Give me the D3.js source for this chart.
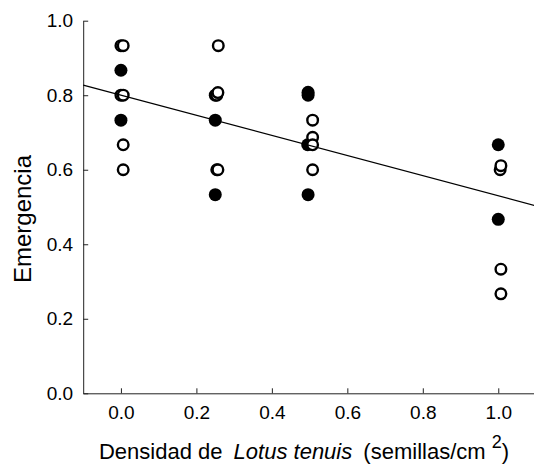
<!DOCTYPE html>
<html>
<head>
<meta charset="utf-8">
<script src="https://cdn.jsdelivr.net/npm/d3@7"></script>
<style>
  body { margin: 0; background: #fff; }
  text { font-family: "Liberation Sans", Arial, sans-serif; fill: #000; }
</style>
</head>
<body>
<div id="chart"></div>
<script>
// filled circles (density, emergence)
var filledX = [0, 0, 0.25, 0.25, 0.25, 0.496, 0.496, 0.495, 0.496, 1.0, 1.0];
var filledY = [0.867, 0.733, 0.8, 0.733, 0.533, 0.8, 0.808, 0.667, 0.533, 0.667, 0.467];

// open circles: density group + small right shift seen in the original
var openGroup = [0, 0, 0, 0, 0, 0, 0.25, 0.25, 0.25, 0.25, 0.25,
                 0.5, 0.5, 0.5, 0.5, 1.0, 1.0, 1.0, 1.0];
var openShift = [0, 0.006, 0, 0.006, 0.006, 0.006, 0.008, 0.004, 0.007, 0.004, 0.007,
                 0.008, 0.008, 0.008, 0.008, 0.005, 0.007, 0.007, 0.007];
var openY = [0.933, 0.933, 0.8, 0.8, 0.667, 0.6, 0.933, 0.8, 0.807, 0.6, 0.6,
             0.733, 0.687, 0.667, 0.6, 0.6, 0.611, 0.333, 0.267];

// regression line end points
var fitX = [-0.1, 1.1];
var fitY = [0.827, 0.503];

var xTicks = [0, 0.2, 0.4, 0.6, 0.8, 1.0];
var yTicks = [0, 0.2, 0.4, 0.6, 0.8, 1.0];

var W = 534, H = 469;

var x = d3.scaleLinear().domain([-0.1, 1.1]).range([83.2, 536]);
var y = d3.scaleLinear().domain([0, 1]).range([393.3, 20.7]);

var svg = d3.select("#chart").append("svg")
    .attr("width", W)
    .attr("height", H);

// x axis
svg.append("g")
    .attr("transform", "translate(0," + y(0) + ")")
    .call(d3.axisBottom(x).tickValues(xTicks).tickFormat(d3.format(".1f"))
        .tickSizeInner(-5).tickSizeOuter(0).tickPadding(12));

// y axis
svg.append("g")
    .attr("transform", "translate(" + x(-0.1) + ",0)")
    .call(d3.axisLeft(y).tickValues(yTicks).tickFormat(d3.format(".1f"))
        .tickSizeInner(-5).tickSizeOuter(0).tickPadding(10));

svg.selectAll(".domain, .tick line").attr("stroke", "#222").attr("stroke-width", 1);
svg.selectAll(".tick text")
    .style("font-family", "'Liberation Sans', Arial, sans-serif")
    .style("font-size", "19px")
    .attr("fill", "#000");

// points
var filled = filledX.map(function (d, i) { return [d, filledY[i]]; });
var open = openGroup.map(function (d, i) { return [d + openShift[i], openY[i]]; });

svg.selectAll(".filled")
    .data(filled)
    .enter().append("circle")
    .attr("class", "filled")
    .attr("cx", function (d) { return x(d[0]); })
    .attr("cy", function (d) { return y(d[1]); })
    .attr("r", 6.5)
    .attr("fill", "#000");

svg.selectAll(".open")
    .data(open)
    .enter().append("circle")
    .attr("class", "open")
    .attr("cx", function (d) { return x(d[0]); })
    .attr("cy", function (d) { return y(d[1]); })
    .attr("r", 5.3)
    .attr("fill", "#fff")
    .attr("stroke", "#000")
    .attr("stroke-width", 2.4);

// regression line
svg.append("path")
    .datum(fitX.map(function (d, i) { return [d, fitY[i]]; }))
    .attr("fill", "none")
    .attr("stroke", "#000")
    .attr("stroke-width", 1.2)
    .attr("d", d3.line().x(function (d) { return x(d[0]); }).y(function (d) { return y(d[1]); }));

// axis titles
svg.append("text")
    .attr("transform", "translate(31,219) rotate(-90)")
    .attr("text-anchor", "middle")
    .style("font-size", "24px")
    .text("Emergencia");

var t = svg.append("text")
    .attr("x", 304)
    .attr("y", 459)
    .attr("text-anchor", "middle")
    .style("font-size", "22px");
t.append("tspan").text("Densidad de ");
t.append("tspan").attr("font-style", "italic").attr("dx", 5).text("Lotus tenuis");
t.append("tspan").attr("dx", 5).text(" (semillas/cm ");
t.append("tspan").attr("dy", -11).style("font-size", "18px").text("2");
t.append("tspan").attr("dy", 11).text(")");
</script>
</body>
</html>
